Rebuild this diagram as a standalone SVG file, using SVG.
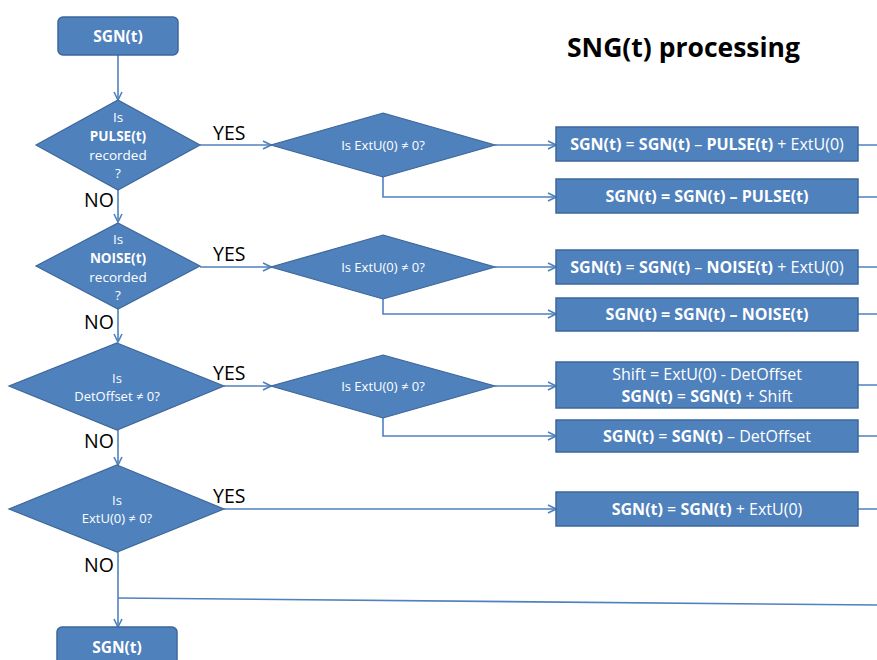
<svg xmlns="http://www.w3.org/2000/svg" width="877" height="660" viewBox="0 0 877 660">
  <style>
    .box { fill: #4f81bd; stroke: #3d679a; stroke-width: 1.5; }
    .dia { fill: #4f81bd; stroke: #3d679a; stroke-width: 1.2; }
    .wire { fill: none; stroke: #4f81bd; stroke-width: 1.6; }
    .t { font-family: "Open Sans", "Liberation Sans", sans-serif; fill: #ffffff; text-anchor: middle; }
    .b { font-weight: bold; }
    .lbl { font-family: "Open Sans", "Liberation Sans", sans-serif; font-size: 19.5px; fill: #000000; }
    .title { font-family: "Open Sans", "Liberation Sans", sans-serif; font-size: 26px; font-weight: bold; fill: #000000; }
  </style>
  <defs>
    <marker id="arr" viewBox="0 0 10 10" refX="9" refY="5" markerWidth="10" markerHeight="10" markerUnits="userSpaceOnUse" orient="auto">
      <path d="M1,1 L9,5 L1,9" fill="none" stroke="#4f81bd" stroke-width="1.6"/>
    </marker>
  </defs>

  <text class="title" x="567" y="57" textLength="233" lengthAdjust="spacingAndGlyphs">SNG(t) processing</text>

  <!-- connectors -->
  <g id="connectors">
    <path class="wire" d="M118,55 V100" marker-end="url(#arr)"/>
    <path class="wire" d="M118,190 V222" marker-end="url(#arr)"/>
    <path class="wire" d="M118,309 V342" marker-end="url(#arr)"/>
    <path class="wire" d="M118,430 V465" marker-end="url(#arr)"/>
    <path class="wire" d="M118,552 V627" marker-end="url(#arr)"/>
    <path class="wire" d="M118,598 L877,605"/>

    <path class="wire" d="M200,145 H271" marker-end="url(#arr)"/>
    <path class="wire" d="M200,267 H271" marker-end="url(#arr)"/>
    <path class="wire" d="M224,386 H271" marker-end="url(#arr)"/>
    <path class="wire" d="M224,509 H556" marker-end="url(#arr)"/>

    <path class="wire" d="M495,145 H556" marker-end="url(#arr)"/>
    <path class="wire" d="M383,177 V197 H556" marker-end="url(#arr)"/>
    <path class="wire" d="M495,267 H556" marker-end="url(#arr)"/>
    <path class="wire" d="M383,299 V314 H556" marker-end="url(#arr)"/>
    <path class="wire" d="M495,386 H556" marker-end="url(#arr)"/>
    <path class="wire" d="M383,418 V436 H556" marker-end="url(#arr)"/>

    <path class="wire" d="M858,145 H877 M858,197 H877 M858,267 H877 M858,314 H877 M858,385 H877 M858,436 H877 M858,509 H877"/>
  </g>

  <!-- start -->
  <g id="start">
    <rect class="box" x="58" y="17" width="120" height="38" rx="5"/>
    <text class="t b" x="118" y="42" font-size="15.5">SGN(t)</text>
  </g>

  <!-- left-hand decisions -->
  <g id="q-pulse">
    <polygon class="dia" points="118,100 200,145 118,190 36,145"/>
    <text class="t" font-size="13.5" x="118" y="122">Is</text>
    <text class="t b" font-size="13.5" x="118" y="141">PULSE(t)</text>
    <text class="t" font-size="13.5" x="118" y="160">recorded</text>
    <text class="t" font-size="13.5" x="118" y="178">?</text>
  </g>
  <g id="q-noise">
    <polygon class="dia" points="118,223 200,266 118,309 36,266"/>
    <text class="t" font-size="13.5" x="118" y="244">Is</text>
    <text class="t b" font-size="13.5" x="118" y="263">NOISE(t)</text>
    <text class="t" font-size="13.5" x="118" y="282">recorded</text>
    <text class="t" font-size="13.5" x="118" y="300">?</text>
  </g>
  <g id="q-detoffset">
    <polygon class="dia" points="117,343 224,386 117,430 9,386"/>
    <text class="t" font-size="13" x="117" y="383">Is</text>
    <text class="t" font-size="13" x="117" y="401">DetOffset ≠ 0?</text>
  </g>
  <g id="q-extu">
    <polygon class="dia" points="117,465 224,509 117,552 9,509"/>
    <text class="t" font-size="13" x="117" y="505">Is</text>
    <text class="t" font-size="13" x="117" y="523">ExtU(0) ≠ 0?</text>
  </g>

  <!-- inner decisions -->
  <g id="q-extu-pulse">
    <polygon class="dia" points="383,113 495,145 383,177 271,145"/>
    <text class="t" font-size="13" x="383" y="150">Is ExtU(0) ≠ 0?</text>
  </g>
  <g id="q-extu-noise">
    <polygon class="dia" points="383,235 495,267 383,299 271,267"/>
    <text class="t" font-size="13" x="383" y="272">Is ExtU(0) ≠ 0?</text>
  </g>
  <g id="q-extu-offset">
    <polygon class="dia" points="383,355 495,386 383,418 271,386"/>
    <text class="t" font-size="13" x="383" y="391">Is ExtU(0) ≠ 0?</text>
  </g>

  <!-- actions -->
  <g id="a-pulse-ext">
    <rect class="box" x="556" y="127" width="302" height="34"/>
    <text class="t" font-size="16" x="707" y="150"><tspan class="b">SGN(t)</tspan> = <tspan class="b">SGN(t)</tspan> – <tspan class="b">PULSE(t)</tspan> + ExtU(0)</text>
  </g>
  <g id="a-pulse">
    <rect class="box" x="556" y="179" width="302" height="34"/>
    <text class="t b" font-size="16" x="707" y="202">SGN(t) = SGN(t) – PULSE(t)</text>
  </g>
  <g id="a-noise-ext">
    <rect class="box" x="556" y="250" width="302" height="34"/>
    <text class="t" font-size="16" x="707" y="273"><tspan class="b">SGN(t)</tspan> = <tspan class="b">SGN(t)</tspan> – <tspan class="b">NOISE(t)</tspan> + ExtU(0)</text>
  </g>
  <g id="a-noise">
    <rect class="box" x="556" y="298" width="302" height="33"/>
    <text class="t b" font-size="16" x="707" y="320">SGN(t) = SGN(t) – NOISE(t)</text>
  </g>
  <g id="a-shift">
    <rect class="box" x="556" y="362" width="302" height="46"/>
    <text class="t" font-size="16" x="707" y="380">Shift = ExtU(0) - DetOffset</text>
    <text class="t" font-size="16" x="707" y="402"><tspan class="b">SGN(t)</tspan> = <tspan class="b">SGN(t)</tspan> + Shift</text>
  </g>
  <g id="a-offset">
    <rect class="box" x="556" y="420" width="302" height="32"/>
    <text class="t" font-size="16" x="707" y="442"><tspan class="b">SGN(t)</tspan> = <tspan class="b">SGN(t)</tspan> – DetOffset</text>
  </g>
  <g id="a-ext">
    <rect class="box" x="556" y="492" width="302" height="34"/>
    <text class="t" font-size="16" x="707" y="515"><tspan class="b">SGN(t)</tspan> = <tspan class="b">SGN(t)</tspan> + ExtU(0)</text>
  </g>

  <!-- end -->
  <g id="end">
    <rect class="box" x="57" y="627" width="120" height="40" rx="5"/>
    <text class="t b" x="117" y="653" font-size="15.5">SGN(t)</text>
  </g>

  <!-- branch labels -->
  <g id="labels">
    <text class="lbl" x="213" y="140">YES</text>
    <text class="lbl" x="213" y="261">YES</text>
    <text class="lbl" x="213" y="380">YES</text>
    <text class="lbl" x="213" y="503">YES</text>
    <text class="lbl" x="84" y="207">NO</text>
    <text class="lbl" x="84" y="329">NO</text>
    <text class="lbl" x="84" y="448">NO</text>
    <text class="lbl" x="84" y="572">NO</text>
  </g>
</svg>
